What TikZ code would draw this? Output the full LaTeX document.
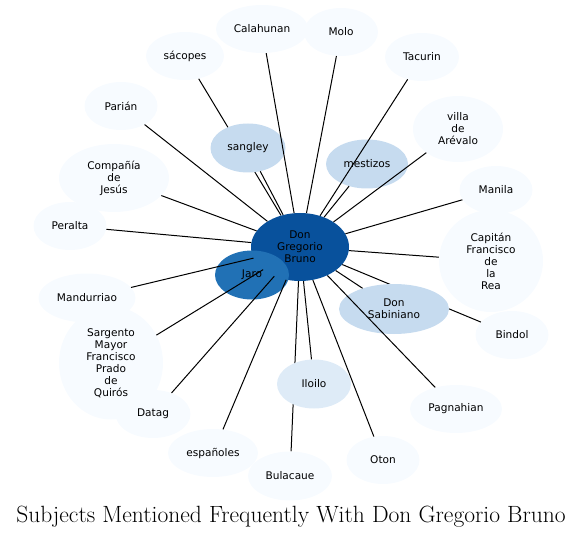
\documentclass[tikz,border=0pt]{standalone}
\usepackage{fontspec}
\newfontfamily\nodefont{DejaVu Sans}
\usetikzlibrary{shapes.geometric}
\pgfdeclarelayer{bg}
\pgfsetlayers{bg,main}
\definecolor{cdark}{HTML}{08519C}
\definecolor{cmid}{HTML}{2171B5}
\definecolor{clight}{HTML}{C6DBEF}
\definecolor{cpale}{HTML}{DEEBF7}
\definecolor{cfaint}{HTML}{F7FBFF}
\begin{document}
\begin{tikzpicture}[x=1bp,y=-1bp,
  nd/.style={ellipse, inner sep=0pt, align=center, text=black, fill=cfaint,
    font=\nodefont\fontsize{10.6}{12}\selectfont},
  sz/.style 2 args={minimum width=#1bp, minimum height=#2bp},
  lnk/.style={draw=black, line width=1bp}]
\useasboundingbox (0,0) rectangle (583,537);
% nodes
\node[nd, sz={98}{68}, fill=cdark] (c) at (300,247) {Don\\Gregorio\\Bruno};
\node[nd, sz={74}{49}, fill=cmid] (jaro) at (252,275) {Jaro};
\node[nd, sz={92}{48}] (cal) at (262,29) {Calahunan};
\node[nd, sz={74}{48}] (molo) at (341,32) {Molo};
\node[nd, sz={78}{48}] (sac) at (185,56) {sácopes};
\node[nd, sz={74}{48}] (tac) at (422,57) {Tacurin};
\node[nd, sz={73}{48}] (par) at (121,106) {Parián};
\node[nd, sz={75}{49}, fill=clight] (sang) at (248,148) {sangley};
\node[nd, sz={90}{66}] (vil) at (458,129) {villa\\de\\Arévalo};
\node[nd, sz={82}{49}, fill=clight] (mes) at (367,164) {mestizos};
\node[nd, sz={73}{48}] (man) at (496,190) {Manila};
\node[nd, sz={110}{68}] (comp) at (114,178) {Compañía\\de\\Jesús};
\node[nd, sz={73}{48}] (per) at (70,226) {Peralta};
\node[nd, sz={104}{102}] (cap) at (491,261) {Capitán\\Francisco\\de\\la\\Rea};
\node[nd, sz={97}{49}] (mand) at (87,298) {Mandurriao};
\node[nd, sz={104}{113}] (sarg) at (111,363) {Sargento\\Mayor\\Francisco\\Prado\\de\\Quirós};
\node[nd, sz={75}{48}] (dat) at (153,414) {Datag};
\node[nd, sz={90}{48}] (esp) at (213,453) {españoles};
\node[nd, sz={84}{49}] (bul) at (290,476) {Bulacaue};
\node[nd, sz={74}{49}, fill=cpale] (ilo) at (314,384) {Iloilo};
\node[nd, sz={73}{48}] (oton) at (383,460) {Oton};
\node[nd, sz={92}{48}] (pag) at (456,409) {Pagnahian};
\node[nd, sz={73}{48}] (bin) at (512,335) {Bindol};
\node[nd, sz={110}{50}, fill=clight] (sab) at (394,309) {Don\\Sabiniano};
% edges hidden behind nodes
\begin{pgfonlayer}{bg}
\draw[lnk] (c) -- (sac);
\draw[lnk] (c) -- (bin);
\draw[lnk] (c) -- (bul);
\draw[lnk] (c) -- (jaro);
\end{pgfonlayer}
% edges drawn over nodes
\draw[lnk] (c) -- (cal);
\draw[lnk] (c) -- (molo);
\draw[lnk] (c) -- (tac);
\draw[lnk] (c) -- (par);
\draw[lnk] (c) -- (sang);
\draw[lnk] (c) -- (vil);
\draw[lnk] (c) -- (mes);
\draw[lnk] (c) -- (man);
\draw[lnk] (c) -- (comp);
\draw[lnk] (c) -- (per);
\draw[lnk] (c) -- (cap);
\draw[lnk] (c) -- (mand);
\draw[lnk] (c) -- (sarg);
\draw[lnk] (c) -- (dat);
\draw[lnk] (c) -- (esp);
\draw[lnk] (c) -- (ilo);
\draw[lnk] (c) -- (oton);
\draw[lnk] (c) -- (pag);
\draw[lnk] (c) -- (sab);
% title
\node[anchor=base, font=\fontsize{23.6}{28}\selectfont] (title) at (291,522) {Subjects Mentioned Frequently With Don Gregorio Bruno};
\end{tikzpicture}
\end{document}
